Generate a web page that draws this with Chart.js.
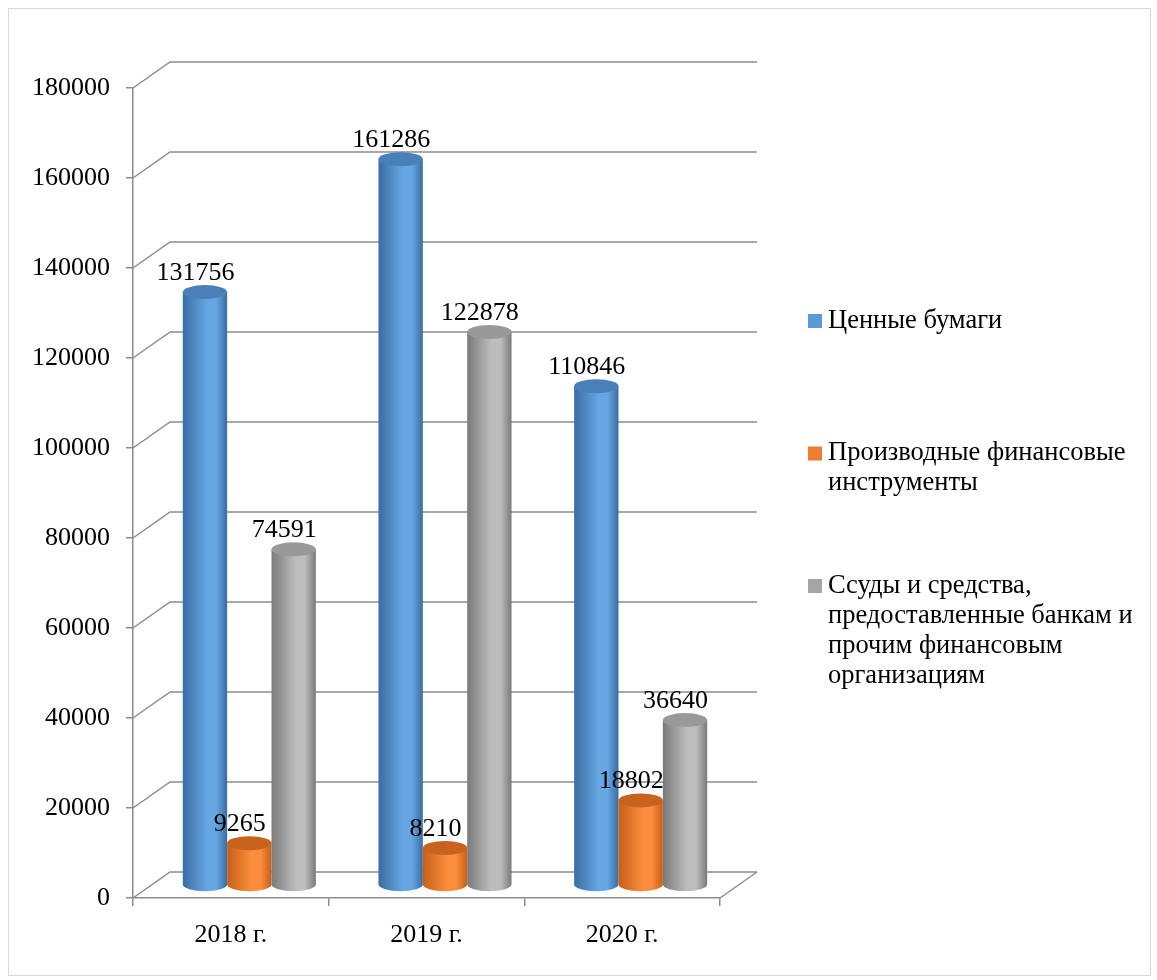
<!DOCTYPE html>
<html>
<head>
<meta charset="utf-8">
<script src="https://cdn.jsdelivr.net/npm/chart.js@4.4.1/dist/chart.umd.min.js"></script>
<style>
  html, body { margin: 0; padding: 0; background: #fff; }
  canvas { display: block; }
</style>
</head>
<body>
<canvas id="chart" width="1157" height="980"></canvas>
<script>
// data
const years = ['2018 г.', '2019 г.', '2020 г.'];
const securities = [131756, 161286, 110846];
const derivatives = [9265, 8210, 18802];
const loans = [74591, 122878, 36640];
const seriesNames = [
    'Ценные бумаги',
    'Производные финансовые инструменты',
    'Ссуды и средства, предоставленные банкам и прочим финансовым организациям'
];
const seriesColors = ['#5b9bd5', '#ed7d31', '#a5a5a5'];
const yTicks = [0, 20000, 40000, 60000, 80000, 100000, 120000, 140000, 160000, 180000];

// cylinder shading: [edge, highlight, cap]
const shades = [
    ['#3a6da3', '#66a6e2', '#4a80ba'],
    ['#c65f17', '#fb8d3c', '#c9621c'],
    ['#7a7a7a', '#bdbdbd', '#999999']
];

const FONT = "'Liberation Serif', 'Times New Roman', serif";
const GRID = '#8c8c8c';
const DX = 37, DY = -26;          // depth of the back wall
const MX = DX / 2, MY = DY / 2;   // bars stand in the middle

function drawCylinder(ctx, el, sh) {
    const rx = el.width / 2, ry = 7;
    const cx = el.x + MX, top = el.y + MY, base = el.base + MY;
    const g = ctx.createLinearGradient(cx - rx, 0, cx + rx, 0);
    g.addColorStop(0, sh[0]);
    g.addColorStop(0.55, sh[1]);
    g.addColorStop(0.75, sh[1]);
    g.addColorStop(1, sh[0]);
    ctx.fillStyle = g;
    ctx.beginPath();
    ctx.moveTo(cx - rx, top);
    ctx.lineTo(cx - rx, base);
    ctx.ellipse(cx, base, rx, ry, 0, Math.PI, 0, true);
    ctx.lineTo(cx + rx, top);
    ctx.closePath();
    ctx.fill();
    ctx.fillStyle = sh[2];
    ctx.beginPath();
    ctx.ellipse(cx, top, rx, ry, 0, 0, Math.PI * 2);
    ctx.fill();
}

function wrapText(ctx, text, maxWidth) {
    const words = text.split(' ');
    const lines = [];
    let line = '';
    words.forEach(w => {
        const test = line ? line + ' ' + w : w;
        if (line && ctx.measureText(test).width > maxWidth) {
            lines.push(line);
            line = w;
        } else {
            line = test;
        }
    });
    if (line) lines.push(line);
    return lines;
}

const chart3d = {
    id: 'chart3d',
    beforeDraw(chart) {
        const ctx = chart.ctx;
        ctx.save();
        ctx.fillStyle = '#fff';
        ctx.fillRect(0, 0, chart.width, chart.height);
        ctx.strokeStyle = '#d9d9d9';
        ctx.lineWidth = 1;
        ctx.strokeRect(8.5, 8.5, 1142, 967);
        ctx.restore();
    },
    beforeDatasetsDraw(chart) {
        const ctx = chart.ctx;
        const y = chart.scales.y;
        const { left, right, bottom } = chart.chartArea;
        ctx.save();
        ctx.strokeStyle = GRID;
        ctx.lineWidth = 1.5;
        y.ticks.forEach(t => {
            const py = y.getPixelForValue(t.value);
            ctx.beginPath();
            ctx.moveTo(left, py);
            ctx.lineTo(left + DX, py + DY);
            ctx.lineTo(right + DX, py + DY);
            ctx.stroke();
        });
        // right edge of the floor
        ctx.beginPath();
        ctx.moveTo(right, bottom);
        ctx.lineTo(right + DX, bottom + DY);
        ctx.stroke();
        ctx.restore();
    },
    beforeDatasetDraw() {
        return false;
    },
    afterDatasetsDraw(chart) {
        const ctx = chart.ctx;
        ctx.save();
        const metas = chart.data.datasets.map((_, i) => chart.getDatasetMeta(i));
        years.forEach((_, j) => {
            metas.forEach((meta, i) => drawCylinder(ctx, meta.data[j], shades[i]));
        });
        ctx.fillStyle = '#000';
        ctx.font = '26px ' + FONT;
        ctx.textAlign = 'center';
        ctx.textBaseline = 'middle';
        metas.forEach((meta, i) => {
            meta.data.forEach((el, j) => {
                ctx.fillText(String(chart.data.datasets[i].data[j]), el.x + 9, el.y - 32);
            });
        });

        // legend
        ctx.font = '26.5px ' + FONT;
        ctx.textAlign = 'left';
        seriesNames.forEach((name, i) => {
            const y0 = 321 + i * 132.5;
            ctx.fillStyle = seriesColors[i];
            ctx.fillRect(808, y0 - 7, 14, 14);
            ctx.fillStyle = '#000';
            wrapText(ctx, name, 322).forEach((line, k) => {
                ctx.fillText(line, 828, y0 + k * 30);
            });
        });
        ctx.restore();
    }
};

new Chart(document.getElementById('chart'), {
    type: 'bar',
    data: {
        labels: years,
        datasets: [
            { label: seriesNames[0], data: securities, backgroundColor: seriesColors[0] },
            { label: seriesNames[1], data: derivatives, backgroundColor: seriesColors[1] },
            { label: seriesNames[2], data: loans, backgroundColor: seriesColors[2] }
        ]
    },
    options: {
        responsive: false,
        animation: false,
        events: [],
        datasets: {
            bar: { barPercentage: 1, categoryPercentage: 0.68 }
        },
        layout: {
            padding: { left: 0, top: 88, right: 437, bottom: 0 }
        },
        plugins: {
            legend: { display: false },
            tooltip: { enabled: false }
        },
        scales: {
            x: {
                afterFit(scale) { scale.height = 82; },
                grid: { offset: true, drawOnChartArea: false, tickLength: 8, color: GRID, lineWidth: 1.5 },
                border: { color: GRID, width: 1.5 },
                ticks: { color: '#000', padding: 14, font: { family: FONT, size: 26 } }
            },
            y: {
                min: 0,
                max: 180000,
                afterFit(scale) { scale.width = 133; },
                afterBuildTicks(scale) { scale.ticks = yTicks.map(v => ({ value: v })); },
                grid: { drawOnChartArea: false, tickLength: 7, color: GRID, lineWidth: 1.5 },
                border: { color: GRID, width: 1.5 },
                ticks: { color: '#000', padding: 16, font: { family: FONT, size: 26 }, callback: v => String(v) }
            }
        }
    },
    plugins: [chart3d]
});
</script>
</body>
</html>
